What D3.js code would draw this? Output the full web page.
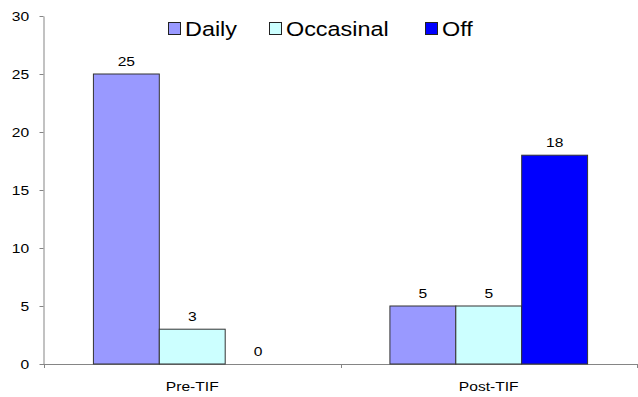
<!DOCTYPE html>
<html>
<head>
<meta charset="utf-8">
<script src="https://cdn.jsdelivr.net/npm/d3@7"></script>
<style>
  body { margin: 0; background: #fff; }
  text { font-family: Arial, "Liberation Sans", sans-serif; fill: #000; }
</style>
</head>
<body>
<svg id="chart" width="638" height="397"></svg>
<script>
// Survey counts per group
const categories = ["Pre-TIF", "Post-TIF"];
const seriesNames = ["Daily", "Occasinal", "Off"];
const daily = [25, 5];
const occasional = [3, 5];
const off = [0, 18];
const yTicks = [0, 5, 10, 15, 20, 25, 30];
const colors = ["#9999ff", "#ccffff", "#0000ff"];

const seriesValues = [daily, occasional, off];
const rows = categories.map((c, i) => ({
  category: c,
  values: seriesNames.map((s, j) => ({ series: s, value: seriesValues[j][i] }))
}));

const svg = d3.select("#chart");
const axisColor = "#858585";
const stretch = 1.2; // text is drawn slightly wide

const plot = { left: 43, right: 637, top: 16, bottom: 364 };

const x0 = d3.scaleBand()
  .domain(categories)
  .range([plot.left + 1, plot.right])
  .paddingInner(1 / 3)
  .paddingOuter(1 / 6);

const x1 = d3.scaleBand()
  .domain(seriesNames)
  .range([0, x0.bandwidth()]);

const y = d3.scaleLinear()
  .domain([0, 30])
  .range([plot.bottom, plot.top]);

const color = d3.scaleOrdinal().domain(seriesNames).range(colors);

// Y axis
const yAxis = svg.append("g")
  .attr("transform", `translate(${plot.left + 0.5},0)`)
  .call(d3.axisLeft(y).tickValues(yTicks).tickSize(4).tickSizeOuter(0).tickPadding(8));
yAxis.select(".domain").attr("stroke", axisColor);
yAxis.selectAll(".tick line").attr("stroke", axisColor);
yAxis.selectAll(".tick text")
  .attr("font-size", 13)
  .attr("font-family", "Arial, 'Liberation Sans', sans-serif")
  .attr("fill", "#000")
  .attr("transform", `scale(${stretch},1)`);

// X axis baseline with ticks at the group boundaries
const step = x0.step();
const boundaries = [plot.left + 0.5].concat(
  categories.map(c => x0(c) + x0.bandwidth() + step * x0.paddingInner() / 2)
);
const xAxis = svg.append("g");
xAxis.append("line")
  .attr("x1", plot.left).attr("x2", plot.right)
  .attr("y1", y(0) + 0.5).attr("y2", y(0) + 0.5)
  .attr("stroke", axisColor);
xAxis.selectAll("line.tick")
  .data(boundaries)
  .join("line")
  .attr("class", "tick")
  .attr("x1", d => Math.round(d) + 0.5).attr("x2", d => Math.round(d) + 0.5)
  .attr("y1", y(0)).attr("y2", y(0) + 4)
  .attr("stroke", axisColor);

xAxis.selectAll("text.cat")
  .data(categories)
  .join("text")
  .attr("class", "cat")
  .attr("text-anchor", "middle")
  .attr("font-size", 13)
  .attr("transform", d => `translate(${x0(d) + x0.bandwidth() / 2},391) scale(${stretch},1)`)
  .text(d => d);

// Bars
const groups = svg.append("g")
  .selectAll("g")
  .data(rows)
  .join("g")
  .attr("transform", d => `translate(${x0(d.category)},0)`);

groups.selectAll("rect")
  .data(d => d.values.filter(v => v.value > 0))
  .join("rect")
  .attr("x", d => x1(d.series))
  .attr("y", d => y(d.value))
  .attr("width", x1.bandwidth())
  .attr("height", d => y(0) - y(d.value))
  .attr("fill", d => color(d.series))
  .attr("stroke", "#333")
  .attr("stroke-width", 1);

// Value labels
groups.selectAll("text")
  .data(d => d.values)
  .join("text")
  .attr("text-anchor", "middle")
  .attr("font-size", 13)
  .attr("transform", d => `translate(${x1(d.series) + x1.bandwidth() / 2},${y(d.value) - 8}) scale(${stretch},1)`)
  .text(d => d.value);

// Legend
const legendX = [168, 269, 425];
const legend = svg.append("g")
  .selectAll("g")
  .data(seriesNames)
  .join("g")
  .attr("transform", (d, i) => `translate(${legendX[i]},22)`);

legend.append("rect")
  .attr("x", 0.5).attr("y", 0.5)
  .attr("width", 12).attr("height", 12)
  .attr("fill", d => color(d))
  .attr("stroke", "#222");

legend.append("text")
  .attr("font-size", 19.5)
  .attr("transform", `translate(17,13.5) scale(${stretch},1)`)
  .text(d => d);
</script>
</body>
</html>
